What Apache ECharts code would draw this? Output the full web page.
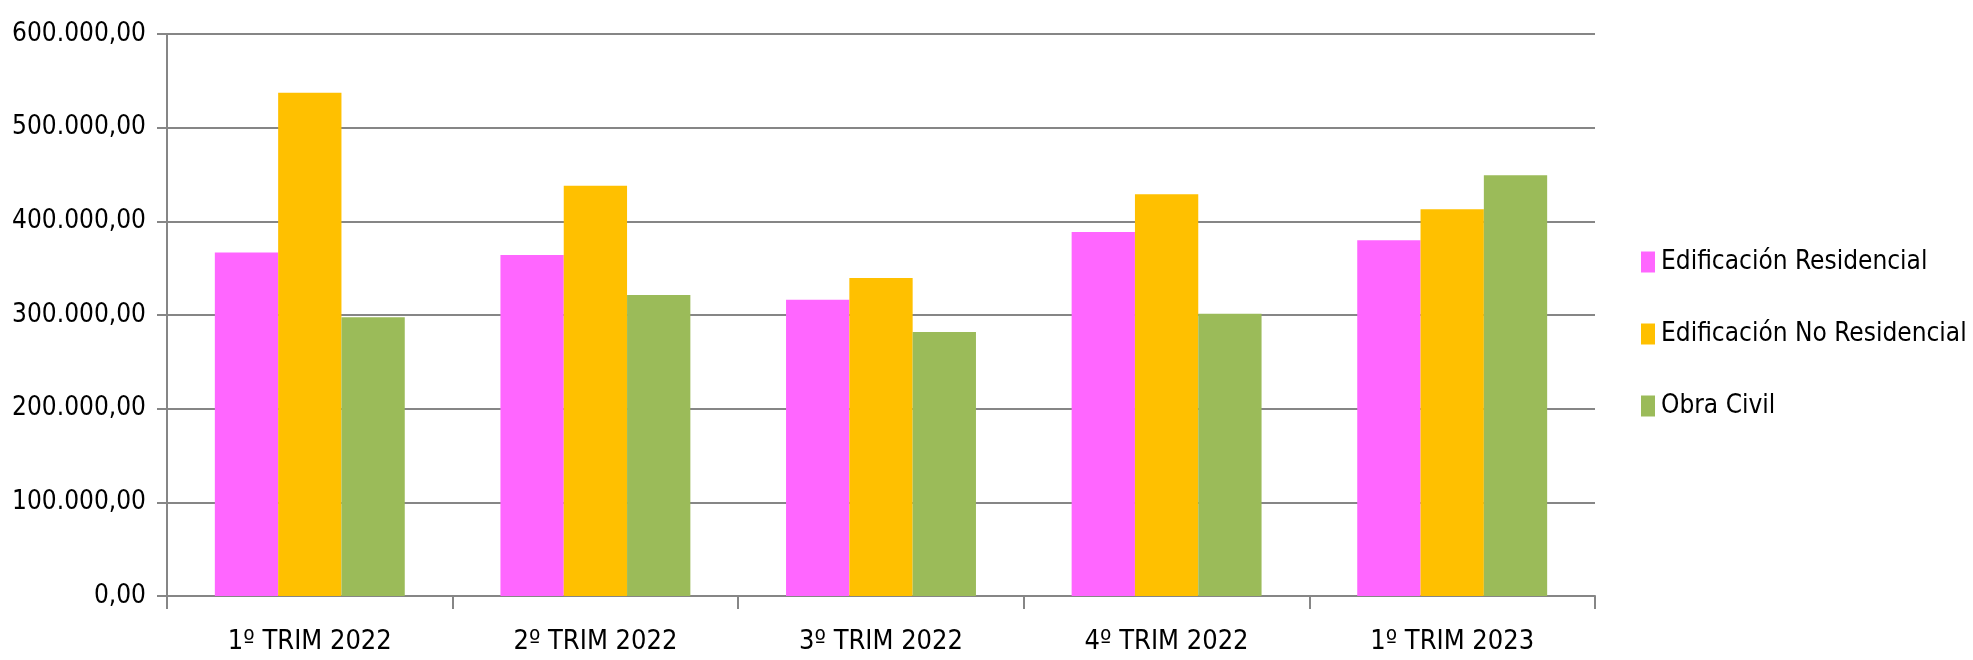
<!DOCTYPE html>
<html>
<head>
<meta charset="utf-8">
<script src="https://cdn.jsdelivr.net/npm/echarts@6/dist/echarts.min.js"></script>
<style>
  html, body { margin: 0; padding: 0; background: #fff; }
  #chart { width: 1973px; height: 660px; }
</style>
</head>
<body>
<div id="chart"></div>
<script>
const categories = ['1º TRIM 2022', '2º TRIM 2022', '3º TRIM 2022', '4º TRIM 2022', '1º TRIM 2023']
const seriesNames = ['Edificación Residencial', 'Edificación No Residencial', 'Obra Civil']
const residencial = [366800, 364000, 316400, 388600, 379700]
const noResidencial = [537200, 438000, 339500, 428800, 412800]
const obraCivil = [297600, 321400, 281900, 301400, 449100]
const yTicks = { min: 0, max: 600000, interval: 100000 }

const FONT = '"DejaVu Sans Condensed", "Liberation Sans Narrow", sans-serif'
const colors = ['#FF66FF', '#FFC000', '#9BBB59']

const fmt = v => {
  const s = Math.round( v ).toString().replace( /\B(?=(\d{3})+(?!\d))/g, '.' )
  return s + ',00'
}

const chart = echarts.init( document.getElementById( 'chart' ) )

chart.setOption( {
  animation : false,
  color : colors,
  textStyle : { fontFamily : FONT },
  grid : {
    left : 167,
    right : 378,
    top : 34,
    bottom : 64,
    containLabel : false,
    outerBoundsMode : 'none'
  },
  legend : {
    orient : 'vertical',
    left : 1636,
    top : 244,
    itemWidth : 14,
    itemHeight : 21,
    itemGap : 46,
    icon : 'rect',
    textStyle : { fontFamily : FONT, fontSize : 26, color : '#000', padding : [0, 0, 0, 1] },
    data : seriesNames
  },
  xAxis : {
    type : 'category',
    data : categories,
    axisLine : { lineStyle : { color : '#868686', width : 2 } },
    axisTick : { show : true, length : 13, lineStyle : { color : '#868686', width : 2 } },
    axisLabel : { fontFamily : FONT, fontSize : 27, color : '#000', margin : 32 }
  },
  yAxis : {
    type : 'value',
    min : yTicks.min,
    max : yTicks.max,
    interval : yTicks.interval,
    axisLine : { show : true, lineStyle : { color : '#868686', width : 2 } },
    axisTick : { show : true, length : 10, lineStyle : { color : '#868686', width : 2 } },
    splitLine : { lineStyle : { color : '#868686', width : 2 } },
    axisLabel : { fontFamily : FONT, fontSize : 26, color : '#000', margin : 21, formatter : fmt }
  },
  series : [
    { name : seriesNames[0], type : 'bar', data : residencial, barGap : '0%', barCategoryGap : '33.5%' },
    { name : seriesNames[1], type : 'bar', data : noResidencial, barGap : '0%', barCategoryGap : '33.5%' },
    { name : seriesNames[2], type : 'bar', data : obraCivil, barGap : '0%', barCategoryGap : '33.5%' }
  ]
} )
</script>
</body>
</html>
